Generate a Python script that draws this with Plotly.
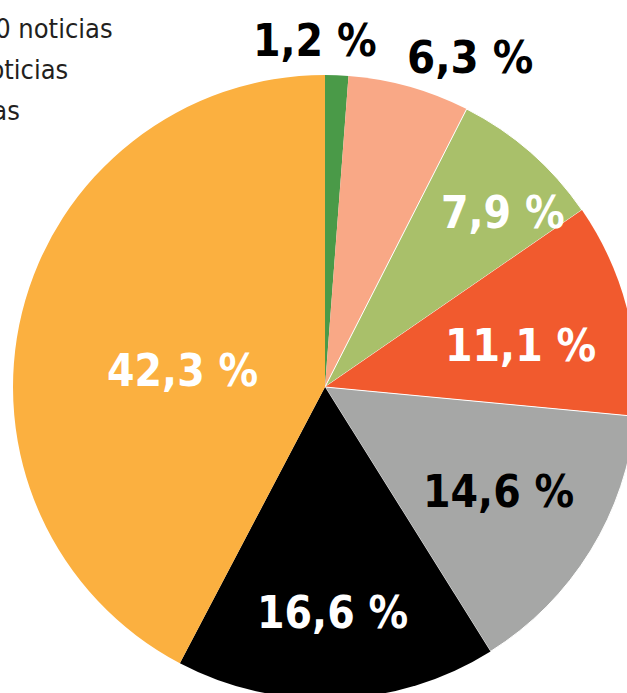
import math
import plotly.graph_objects as go

# ---- data ----
categories = [
    "Más de 100 noticias",
    "Entre 51 y 100 noticias",
    "Entre 21 y 50 noticias",
    "Entre 11 y 20 noticias",
    "Entre 6 y 10 noticias",
    "Entre 2 y 5 noticias",
    "1 noticia",
]
values = [1.2, 6.3, 7.9, 11.1, 14.6, 16.6, 42.3]
value_labels = ["1,2 %", "6,3 %", "7,9 %", "11,1 %", "14,6 %", "16,6 %", "42,3 %"]
legend_lines = ["Más de 100 noticias", "Entre 51 y 100 noticias", "Entre 21 y 50 noticias"]

# ---- styles ----
colors = ["#4a9a48", "#f9a886", "#a9c06a", "#f15a2e", "#a6a7a6", "#000000", "#fbb040"]
edge_widths = [0, 0, 1.0, 0, 1.0, 0, 0]
label_colors = ["#000000", "#000000", "#ffffff", "#ffffff", "#000000", "#ffffff", "#ffffff"]
label_rfac = [1.112, 1.153, 0.798, 0.642, 0.651, 0.722, 0.459]
label_dtheta = [-3.8, 8.1, 4.4, 2.5, -0.6, 0.2, -7.1]
label_size = [44, 45, 44, 44, 44, 44, 44]
FONT = "DejaVu Sans Condensed, Liberation Sans Narrow, DejaVu Sans, sans-serif"

W, H = 660, 720
CX, CY, R = 325, 387, 312  # pie centre / radius in pixels (top-left origin)

fig = go.Figure()
fig.add_trace(go.Pie(
    labels=categories,
    values=values,
    sort=False,
    direction="clockwise",
    rotation=0,
    marker=dict(colors=colors, line=dict(width=edge_widths, color="#ffffff")),
    textinfo="none",
    hoverinfo="label+percent",
    showlegend=False,
    domain=dict(x=[(CX - R) / W, (CX + R) / W], y=[(H - CY - R) / H, (H - CY + R) / H]),
))

total = sum(values)
cum = 0.0
annotations = []
for i, v in enumerate(values):
    mid = (cum + v / 2) / total * 360.0 + label_dtheta[i]
    cum += v
    rr = label_rfac[i] * R
    px = CX + rr * math.sin(math.radians(mid))
    py = CY - rr * math.cos(math.radians(mid))
    annotations.append(dict(
        x=px / W, y=1 - py / H, xref="paper", yref="paper",
        text="<b>" + value_labels[i] + "</b>", showarrow=False,
        xanchor="center", yanchor="middle",
        font=dict(family=FONT, size=label_size[i], color=label_colors[i]),
    ))

legend_right = [115, 70, 22]
legend_y = [29, 70, 110]
for i, t in enumerate(legend_lines):
    annotations.append(dict(
        x=legend_right[i] / W, y=1 - legend_y[i] / H, xref="paper", yref="paper",
        text=t, showarrow=False, xanchor="right", yanchor="middle",
        font=dict(family=FONT, size=27, color="#231f20"),
    ))

fig.update_layout(
    width=W, height=H,
    margin=dict(l=0, r=0, t=0, b=0),
    paper_bgcolor="#ffffff",
    plot_bgcolor="#ffffff",
    annotations=annotations,
)

fig.write_html(
    "out.html",
    config={"displayModeBar": False},
    post_script="document.body.style.margin='0';document.body.style.overflow='hidden';document.documentElement.style.overflow='hidden';",
)
